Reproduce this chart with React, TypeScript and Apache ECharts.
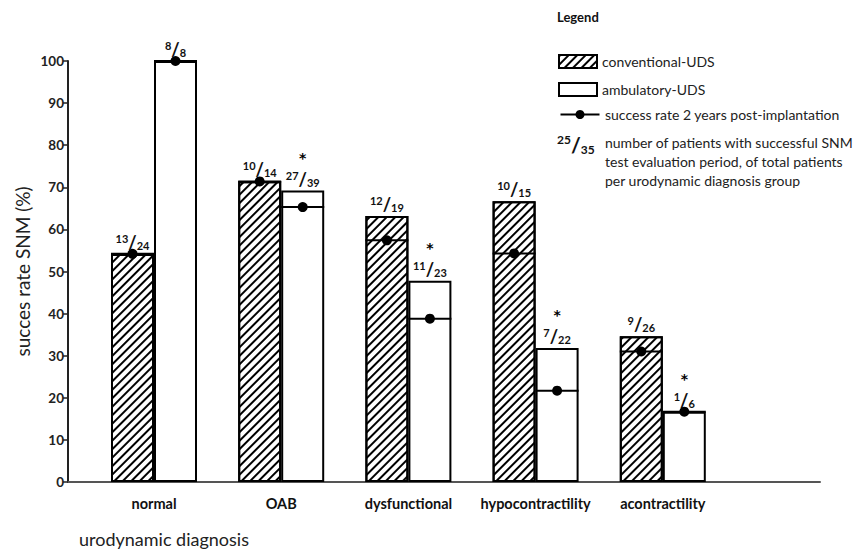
import React, { useEffect, useRef } from "react";
import * as echarts from "echarts";

const categories = ["normal", "OAB", "dysfunctional", "hypocontractility", "acontractility"];
const convSuccess = [13, 10, 12, 10, 9];
const convTotal = [24, 14, 19, 15, 26];
const ambSuccess = [8, 27, 11, 7, 1];
const ambTotal = [8, 39, 23, 22, 6];
const ambStar = [false, true, true, true, true];
const convStar = [false, false, false, false, false];
const convRate2y = [54.2, 71.4, 57.4, 54.3, 31.0];
const ambRate2y = [100, 65.3, 38.8, 21.7, 16.7];
const legendNames = ["conventional-UDS", "ambulatory-UDS"];
const lineLegendName = "success rate 2 years post-implantation";
const fractionLegendLines = [
  "number of patients with successful SNM",
  "test evaluation period, of total patients",
  "per urodynamic diagnosis group",
];

const FONT = "Lato, 'Open Sans', sans-serif";
const BW = 43;

const fracRich = {
  st: { fontSize: 14, fontWeight: "bold", color: "#000", fontFamily: "'DejaVu Sans', sans-serif", lineHeight: 24, align: "center" },
  n: { fontSize: 11, fontWeight: "bold", color: "#111", fontFamily: FONT, lineHeight: 11, verticalAlign: "top" },
  sl: { fontSize: 18, fontWeight: "bold", color: "#111", fontFamily: FONT, lineHeight: 18 },
  d: { fontSize: 11, fontWeight: "bold", color: "#111", fontFamily: FONT, lineHeight: 11, verticalAlign: "bottom" },
};

function fracLabel(s: number[], t: number[], star: boolean[]) {
  return (p: any) => {
    const i = p.dataIndex;
    const f = `{n|${s[i]}}{sl|/}{d|${t[i]}}`;
    return star[i] ? `{st|*}\n${f}` : f;
  };
}

function dotSeries(name: string, data: number[], off: number) {
  return {
    type: "custom",
    name,
    xAxisIndex: 1,
    yAxisIndex: 1,
    z: 5,
    silent: true,
    clip: false,
    data: data.map((v, i) => [i, v]),
    renderItem: (_params: any, api: any) => {
      const c = api.coord([api.value(0), api.value(1)]);
      const cx = c[0] + off;
      return {
        type: "group",
        children: [
          {
            type: "line",
            shape: { x1: cx - BW / 2, y1: c[1], x2: cx + BW / 2, y2: c[1] },
            style: { stroke: "#000", lineWidth: 2 },
          },
          { type: "circle", shape: { cx, cy: c[1], r: 5 }, style: { fill: "#000" } },
        ],
      };
    },
  };
}

export default function App() {
  const ref = useRef<HTMLDivElement>(null);
  useEffect(() => {
    if (!ref.current) return;
    const chart = echarts.init(ref.current, null, { renderer: "svg" });
    const convVals = convSuccess.map((s, i) => (s / convTotal[i]) * 100);
    const ambVals = ambSuccess.map((s, i) => (s / ambTotal[i]) * 100);
    chart.setOption({
      animation: false,
      backgroundColor: "#fff",
      grid: [
        { left: 68, top: 61, width: 752, height: 421 },
        { left: 90.4, top: 61, width: 636, height: 421 },
      ],
      xAxis: [
        {
          type: "value",
          gridIndex: 0,
          min: 0,
          max: 1,
          axisLine: { show: true, lineStyle: { color: "#555", width: 2 } },
          axisTick: { show: false },
          axisLabel: { show: false },
          splitLine: { show: false },
        },
        {
          type: "category",
          gridIndex: 1,
          data: categories,
          axisLine: { show: false },
          axisTick: { show: false },
          axisLabel: { interval: 0, fontFamily: FONT, fontWeight: "bold", fontSize: 14.5, color: "#111", margin: 14 },
        },
      ],
      yAxis: [
        {
          type: "value",
          gridIndex: 0,
          min: 0,
          max: 100,
          interval: 10,
          axisLine: { show: true, lineStyle: { color: "#222", width: 2 } },
          axisTick: { show: true, length: 5, lineStyle: { color: "#222", width: 1.5 } },
          axisLabel: { fontFamily: FONT, fontWeight: "bold", fontSize: 13.5, color: "#222", margin: 4 },
          splitLine: { show: false },
          name: "succes rate SNM (%)",
          nameLocation: "middle",
          nameGap: 36,
          nameMoveOverlap: false,
          nameTextStyle: { fontFamily: FONT, fontSize: 19, color: "#222" },
        },
        { type: "value", gridIndex: 1, min: 0, max: 100, show: false },
      ],
      legend: {
        orient: "vertical",
        left: 553,
        top: 49,
        itemWidth: 38,
        itemHeight: 13,
        itemGap: 13,
        icon: "rect",
        selectedMode: false,
        data: legendNames,
        textStyle: { fontFamily: FONT, fontSize: 14, color: "#222" },
      },
      series: [
        {
          type: "bar",
          name: legendNames[0],
          xAxisIndex: 1,
          yAxisIndex: 1,
          barWidth: BW,
          barGap: "0%",
          data: convVals,
          itemStyle: {
            color: "#fff",
            borderColor: "#000",
            borderWidth: 2,
            decal: {
              symbol: "rect",
              symbolSize: 1,
              dashArrayX: [1, 0],
              dashArrayY: [2, 4],
              rotation: -Math.PI / 4,
              color: "#000",
            },
          },
          label: {
            show: true,
            position: "top",
            distance: 3,
            formatter: fracLabel(convSuccess, convTotal, convStar),
            rich: fracRich,
          },
        },
        {
          type: "bar",
          name: legendNames[1],
          xAxisIndex: 1,
          yAxisIndex: 1,
          barWidth: BW,
          barGap: "0%",
          data: ambVals,
          itemStyle: { color: "#fff", borderColor: "#000", borderWidth: 2 },
          label: {
            show: true,
            position: "top",
            distance: 3,
            formatter: fracLabel(ambSuccess, ambTotal, ambStar),
            rich: fracRich,
          },
        },
        dotSeries(lineLegendName, convRate2y, -BW / 2),
        dotSeries(lineLegendName, ambRate2y, BW / 2),
      ],
      graphic: [
        {
          type: "text",
          left: 557,
          top: 10,
          style: { text: "Legend", fontFamily: FONT, fontWeight: "bold", fontSize: 13, fill: "#111" },
        },
        {
          type: "group",
          left: 558,
          top: 110,
          children: [
            { type: "line", shape: { x1: 0, y1: 5, x2: 39, y2: 5 }, style: { stroke: "#000", lineWidth: 2 } },
            { type: "circle", shape: { cx: 19.5, cy: 5, r: 4.5 }, style: { fill: "#000" } },
          ],
        },
        {
          type: "text",
          left: 605,
          top: 107,
          style: { text: lineLegendName, fontFamily: FONT, fontSize: 14, fill: "#222" },
        },
        {
          type: "text",
          left: 557,
          top: 133,
          style: {
            text: "{n|25}{sl|/}{d|35}",
            rich: {
              n: { fontSize: 12, fontWeight: "bold", fill: "#111", fontFamily: FONT, lineHeight: 12, verticalAlign: "top" },
              sl: { fontSize: 21, fontWeight: "bold", fill: "#111", fontFamily: FONT, lineHeight: 22 },
              d: { fontSize: 12, fontWeight: "bold", fill: "#111", fontFamily: FONT, lineHeight: 12, verticalAlign: "bottom" },
            },
          },
        },
        {
          type: "text",
          left: 605,
          top: 133,
          style: {
            text: fractionLegendLines.join("\n"),
            fontFamily: FONT,
            fontSize: 14,
            lineHeight: 19,
            fill: "#222",
          },
        },
        {
          type: "text",
          left: 79,
          top: 530,
          style: { text: "urodynamic diagnosis", fontFamily: FONT, fontSize: 18, fill: "#222" },
        },
      ],
    });
    return () => chart.dispose();
  }, []);
  return (
    <div
      ref={ref}
      style={{ position: "fixed", left: 0, top: 0, width: 855, height: 549, background: "#fff" }}
    />
  );
}
